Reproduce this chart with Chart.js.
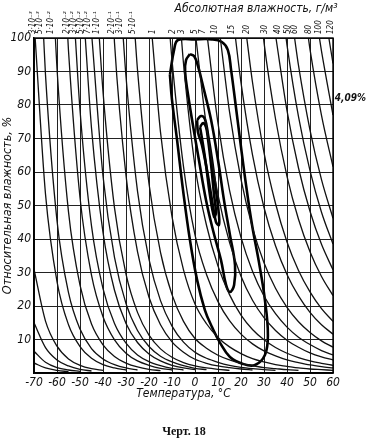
<!DOCTYPE html>
<html>
<head>
<meta charset="utf-8">
<script src="https://cdn.jsdelivr.net/npm/chart.js@4"></script>
<style>
  html, body { margin: 0; padding: 0; background: #fff; }
  #chart { display: block; }
</style>
</head>
<body>
<canvas id="chart" width="366" height="443"></canvas>
<script>
// lines of constant absolute humidity, [temperature °C, relative humidity %]
const abs_1e4 = [[-70, 3], [-65, 1.5], [-60, 0.8], [-55, 0.4]];
const abs_2e4 = [[-70, 6.5], [-65, 3.2], [-60, 1.6], [-55, 0.9], [-50, 0.5]];
const abs_5e4 = [[-70, 15], [-65, 7.6], [-60, 3.9], [-55, 2.1], [-50, 1.1], [-45, 0.6]];
const abs_1e3 = [[-70, 31], [-65, 15.5], [-60, 8], [-55, 4.2], [-50, 2.3], [-45, 1.3], [-40, 0.8]];
const abs_3e3 = [[-69.5, 100], [-65, 53.4], [-60, 27.3], [-55, 14.4], [-50, 7.9], [-45, 4.4], [-40, 2.5], [-35, 1.5], [-30, 0.9]];
const abs_5e3 = [[-65.8, 100], [-65, 89], [-60, 45.5], [-55, 24], [-50, 13.1], [-45, 7.3], [-40, 4.2], [-35, 2.5], [-30, 1.5], [-25, 0.9]];
const abs_1e2 = [[-60.7, 100], [-60, 90.9], [-55, 48.1], [-50, 26.2], [-45, 14.6], [-40, 8.4], [-35, 4.9], [-30, 2.95], [-25, 1.8], [-20, 1.1], [-15, 0.7]];
const abs_2e2 = [[-55.3, 100], [-55, 96.2], [-50, 52.4], [-45, 29.2], [-40, 16.8], [-35, 9.9], [-30, 5.9], [-25, 3.6], [-20, 2.3], [-15, 1.4], [-10, 0.9]];
const abs_3e2 = [[-52, 100], [-50, 78.5], [-45, 43.9], [-40, 25.2], [-35, 14.8], [-30, 8.9], [-25, 5.4], [-20, 3.4], [-15, 2.2], [-10, 1.4], [-5, 0.9]];
const abs_5e2 = [[-47.7, 100], [-45, 73.1], [-40, 42], [-35, 24.7], [-30, 14.8], [-25, 9.1], [-20, 5.7], [-15, 3.6], [-10, 2.3], [-5, 1.5], [0, 1]];
const abs_7e2 = [[-44.8, 100], [-40, 58.8], [-35, 34.5], [-30, 20.7], [-25, 12.7], [-20, 7.9], [-15, 5], [-10, 3.3], [-5, 2.2], [0, 1.4], [5, 1]];
const abs_1e1 = [[-41.6, 100], [-40, 84], [-35, 49.3], [-30, 29.5], [-25, 18.1], [-20, 11.3], [-15, 7.2], [-10, 4.7], [-5, 3.1], [0, 2.1], [5, 1.5], [10, 1.1], [15, 0.8]];
const abs_2e1 = [[-35.1, 100], [-35, 98.6], [-30, 59], [-25, 36.2], [-20, 22.6], [-15, 14.4], [-10, 9.3], [-5, 6.2], [0, 4.1], [5, 2.9], [10, 2.1], [15, 1.6], [20, 1.2], [25, 0.9]];
const abs_3e1 = [[-31.2, 100], [-30, 88.5], [-25, 54.3], [-20, 33.9], [-15, 21.6], [-10, 14], [-5, 9.2], [0, 6.2], [5, 4.4], [10, 3.2], [15, 2.3], [20, 1.7], [25, 1.3], [30, 1], [35, 0.8]];
const abs_5e1 = [[-26, 100], [-25, 90.5], [-20, 56.5], [-15, 36], [-10, 23.4], [-5, 15.4], [0, 10.3], [5, 7.4], [10, 5.3], [15, 3.9], [20, 2.9], [25, 2.2], [30, 1.6], [35, 1.3], [40, 1], [45, 0.8]];
const abs_1 = [[-18.6, 100], [-15, 71.9], [-10, 46.7], [-5, 30.8], [0, 20.6], [5, 14.7], [10, 10.6], [15, 7.8], [20, 5.8], [25, 4.3], [30, 3.3], [35, 2.5], [40, 2], [45, 1.5], [50, 1.2], [55, 1], [60, 0.8]];
const abs_2 = [[-10.8, 100], [-10, 93.4], [-5, 61.6], [0, 41.2], [5, 29.4], [10, 21.3], [15, 15.6], [20, 11.6], [25, 8.7], [30, 6.6], [35, 5.1], [40, 3.9], [45, 3.1], [50, 2.4], [55, 1.9], [60, 1.5]];
const abs_3 = [[-5.9, 100], [-5, 92.4], [0, 61.8], [5, 44.1], [10, 31.9], [15, 23.4], [20, 17.3], [25, 13], [30, 9.9], [35, 7.6], [40, 5.9], [45, 4.6], [50, 3.6], [55, 2.9], [60, 2.3]];
const abs_5 = [[0.4, 100], [5, 73.5], [10, 53.2], [15, 39], [20, 28.9], [25, 21.7], [30, 16.5], [35, 12.7], [40, 9.8], [45, 7.7], [50, 6], [55, 4.8], [60, 3.9]];
const abs_7 = [[5.4, 100], [10, 74.5], [15, 54.6], [20, 40.5], [25, 30.4], [30, 23], [35, 17.7], [40, 13.7], [45, 10.7], [50, 8.5], [55, 6.7], [60, 5.4]];
const abs_10 = [[11, 100], [15, 78], [20, 57.8], [25, 43.4], [30, 32.9], [35, 25.3], [40, 19.6], [45, 15.3], [50, 12.1], [55, 9.6], [60, 7.7]];
const abs_15 = [[17.6, 100], [20, 86.7], [25, 65.1], [30, 49.4], [35, 38], [40, 29.4], [45, 23], [50, 18.1], [55, 14.4], [60, 11.6]];
const abs_20 = [[22.5, 100], [25, 86.8], [30, 65.8], [35, 50.6], [40, 39.1], [45, 30.6], [50, 24.2], [55, 19.2], [60, 15.4]];
const abs_30 = [[29.8, 100], [30, 98.7], [35, 75.9], [40, 58.7], [45, 45.9], [50, 36.2], [55, 28.8], [60, 23.1]];
const abs_40 = [[35.2, 100], [40, 78.3], [45, 61.2], [50, 48.3], [55, 38.4], [60, 30.8]];
const abs_50 = [[39.6, 100], [40, 97.9], [45, 76.5], [50, 60.4], [55, 48], [60, 38.5]];
const abs_60 = [[43.3, 100], [45, 91.8], [50, 72.5], [55, 57.7], [60, 46.2]];
const abs_80 = [[49.3, 100], [50, 96.6], [55, 76.9], [60, 61.6]];
const abs_100 = [[54.1, 100], [55, 96.1], [60, 77]];
const abs_120 = [[58.2, 100], [60, 92.4]];

const isolines = [abs_1e4, abs_2e4, abs_5e4, abs_1e3, abs_3e3, abs_5e3, abs_1e2, abs_2e2, abs_3e2,
  abs_5e2, abs_7e2, abs_1e1, abs_2e1, abs_3e1, abs_5e1, abs_1, abs_2, abs_3, abs_5, abs_7,
  abs_10, abs_15, abs_20, abs_30, abs_40, abs_50, abs_60, abs_80, abs_100, abs_120];

// labels on the top edge and the temperature where each sits
const topLabels = ['3·10⁻³', '5·10⁻³', '1·10⁻²', '2·10⁻²', '3·10⁻²', '5·10⁻²', '7·10⁻²', '1·10⁻¹',
  '2·10⁻¹', '3·10⁻¹', '5·10⁻¹', '1', '2', '3', '5', '7', '10', '15', '20', '30', '40', '50', '60', '80', '100', '120'];
const topLabelTemps = [-70.5, -67.5, -62.5, -55.5, -52.5, -49.5, -46.5, -42.5, -36, -32.5, -27, -18.5,
  -9.5, -5.5, 0, 3.5, 8.5, 16, 22.5, 30.5, 36, 40.5, 43.5, 49.5, 54, 59];

// frequency contours
const contourOuter = [[-10.9, 89], [-9.1, 96.4], [-7.4, 99.4], [0, 99.6], [7.4, 99.6], [11.7, 98.8], [14.3, 96.4],
  [15.7, 90.4], [17.4, 81.5], [19.6, 69.6], [22.2, 56.1], [24.8, 44.2], [27.8, 33.1], [30.4, 21.8], [31.7, 11.3],
  [30.4, 5.4], [26.1, 2.4], [20.9, 2.7], [15.2, 4.8], [10.9, 9], [7.4, 13.7], [4.3, 18.8], [0.9, 27.8],
  [-2.2, 39.7], [-5.2, 54.6], [-7.8, 69.6], [-10, 81.5], [-10.9, 89]];
const contourMiddle = [[-2.2, 95.2], [-0.4, 94.6], [1.3, 91.6], [3.9, 84.5], [7, 75.5], [10, 63.6], [12.6, 51.6],
  [15.2, 41.2], [17.4, 32.2], [17, 26.3], [15.2, 24.2], [13.5, 26.3], [11.3, 33.7], [7.8, 42.7], [4.8, 51.6],
  [1.7, 63.6], [-0.9, 74], [-3, 83], [-4.3, 89.9], [-3.9, 93.4], [-2.2, 95.2]];
const contourInnerA = [[0.9, 75.5], [2.6, 76.7], [4.3, 75.8], [5.7, 71], [7.4, 63.6], [9.1, 54.6], [10.4, 47.2],
  [10.4, 44.2], [9.1, 45.1], [7.4, 51.6], [5.2, 60.6], [3, 68.1], [1.3, 71.9], [0.9, 75.5]];
const contourInnerB = [[2.2, 73.4], [3.5, 74.6], [4.8, 73.4], [5.7, 69.6], [7, 62.1], [8.3, 53.1], [9.1, 47.8],
  [8.3, 46.6], [6.5, 53.1], [4.8, 62.1], [3.5, 68.1], [2.2, 73.4]];
const contours = [contourOuter, contourMiddle, contourInnerA, contourInnerB];

const peakLabel = '4,09%';
const peakLabelRh = 82;

const FONT = "'Liberation Sans Narrow', 'DejaVu Sans Condensed', sans-serif";
const INK = '#111';

function toPoints(pairs) {
  return pairs.map(([x, y]) => ({ x, y }));
}

const datasets = [];
isolines.forEach((line) => {
  datasets.push({
    data: toPoints(line),
    showLine: true,
    borderColor: INK,
    borderWidth: 1.3,
    pointRadius: 0,
    cubicInterpolationMode: 'monotone',
  });
});
contours.forEach((line) => {
  datasets.push({
    data: toPoints(line),
    showLine: true,
    borderColor: '#000',
    borderWidth: 2.6,
    pointRadius: 0,
    tension: 0.4,
  });
});

const extraText = {
  id: 'extraText',
  afterDraw(chart) {
    const { ctx, chartArea, scales } = chart;
    ctx.save();
    ctx.strokeStyle = '#000';
    ctx.lineWidth = 1.4;
    ctx.strokeRect(chartArea.left, chartArea.top, chartArea.right - chartArea.left, chartArea.bottom - chartArea.top);

    ctx.fillStyle = INK;
    // labels of the absolute humidity lines
    ctx.font = `italic 8px ${FONT}`;
    ctx.textAlign = 'left';
    ctx.textBaseline = 'middle';
    topLabels.forEach((label, i) => {
      const x = scales.x.getPixelForValue(topLabelTemps[i]);
      ctx.save();
      ctx.translate(x, chartArea.top - 4);
      ctx.rotate(-Math.PI / 2);
      ctx.fillText(label, 0, 0);
      ctx.restore();
    });

    ctx.font = `italic 12px ${FONT}`;
    ctx.textAlign = 'center';
    ctx.fillText('Абсолютная влажность, г/м³', 256, 9);

    ctx.font = `italic bold 10px ${FONT}`;
    ctx.textAlign = 'right';
    ctx.fillText(peakLabel, 366, scales.y.getPixelForValue(peakLabelRh));

    ctx.font = "bold 12px 'Liberation Serif', 'DejaVu Serif', serif";
    ctx.textAlign = 'center';
    ctx.fillText('Черт. 18', 184, 432);
    ctx.restore();
  },
};

new Chart(document.getElementById('chart'), {
  type: 'scatter',
  data: { datasets },
  options: {
    responsive: false,
    animation: false,
    devicePixelRatio: 1,
    layout: { padding: { top: 38, right: 33, left: 0, bottom: 42 } },
    plugins: { legend: { display: false }, tooltip: { enabled: false } },
    scales: {
      x: {
        type: 'linear',
        min: -70,
        max: 60,
        afterFit: (s) => { s.height = 28; },
        ticks: {
          stepSize: 10,
          padding: 3,
          minRotation: 0,
          maxRotation: 0,
          autoSkip: false,
          color: INK,
          font: { family: FONT, size: 12, style: 'italic' },
        },
        grid: { color: '#222', lineWidth: 1, drawTicks: false },
        border: { color: '#000', width: 1.4 },
        title: { display: true, text: 'Температура, °С', color: INK, padding: 0, font: { family: FONT, size: 12, style: 'italic' } },
      },
      y: {
        type: 'linear',
        min: 0,
        max: 100,
        afterFit: (s) => { s.width = 34; },
        ticks: {
          stepSize: 10,
          padding: 3,
          color: INK,
          font: { family: FONT, size: 12, style: 'italic' },
          callback: (v) => (v === 0 ? '' : v),
        },
        grid: { color: '#222', lineWidth: 1, drawTicks: false },
        border: { color: '#000', width: 1.4 },
        title: { display: true, text: 'Относительная влажность, %', color: INK, padding: { top: 0 }, font: { family: FONT, size: 12.5, style: 'italic' } },
      },
    },
  },
  plugins: [extraText],
});
</script>
</body>
</html>
